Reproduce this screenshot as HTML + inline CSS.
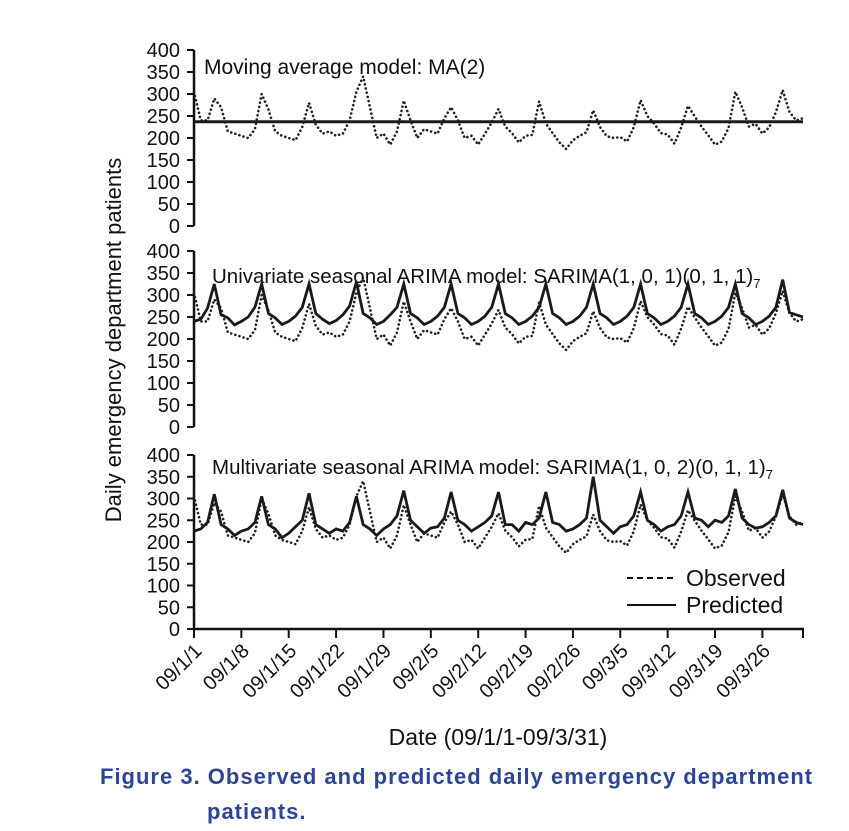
<!DOCTYPE html>
<html><head><meta charset="utf-8"><style>
body{margin:0;background:#fff;}
svg{display:block;font-family:"Liberation Sans",Arial,sans-serif;}
</style></head><body>
<svg id="chart" width="849" height="831" viewBox="0 0 849 831" xmlns="http://www.w3.org/2000/svg">
<g id="plots"></g>
<text x="121" y="340" transform="rotate(-90 121 340)" text-anchor="middle" font-size="22" fill="#111">Daily emergency department  patients</text>
<text x="498" y="745" text-anchor="middle" font-size="23" fill="#111">Date (09/1/1-09/3/31)</text>
<g>
<line x1="627" y1="578" x2="676" y2="578" stroke="#111" stroke-width="2" stroke-dasharray="6 4"/>
<text x="686" y="586" font-size="23" fill="#111">Observed</text>
<line x1="627" y1="605" x2="676" y2="605" stroke="#111" stroke-width="2"/>
<text x="686" y="613" font-size="23" fill="#111">Predicted</text>
</g>
<text x="100" y="784" font-size="22" font-weight="bold" fill="#2e4596" letter-spacing="1">Figure 3. Observed and predicted daily emergency department</text>
<text x="207" y="819" font-size="22" font-weight="bold" fill="#2e4596" letter-spacing="1">patients.</text>
</svg>
<script>
const observed = [305,240,240,290,270,215,210,205,200,220,300,265,215,205,200,195,225,280,230,210,215,205,210,240,305,340,270,200,210,185,215,285,240,200,220,215,210,245,270,240,200,205,185,210,235,266,226,211,190,205,207,283,233,211,190,175,195,205,213,263,225,204,200,202,192,225,286,250,233,211,208,187,224,273,249,226,206,185,192,223,305,270,226,232,210,224,259,309,259,240,245];
const predictedMA = 237;
const predictedSARIMA = [240,245,270,325,255,248,232,240,250,272,325,258,248,233,240,252,272,325,258,245,235,242,255,275,330,258,248,233,240,255,272,325,258,248,233,240,252,272,325,258,248,233,240,252,272,325,258,248,233,240,252,272,325,258,248,233,240,252,272,325,258,248,233,240,252,272,325,258,248,233,240,252,272,325,258,248,233,240,252,272,325,258,248,233,240,252,272,335,260,255,250];
const predictedMulti = [225,230,245,310,240,230,215,225,230,245,305,240,230,210,220,235,250,312,240,230,220,230,225,245,305,240,230,215,230,240,260,318,250,235,220,232,235,255,315,250,240,225,235,245,260,315,240,240,225,245,240,255,315,245,240,225,230,240,255,350,250,235,220,235,240,260,315,250,240,225,235,240,260,315,255,250,235,250,245,260,322,255,240,232,235,245,260,320,255,245,240];
const yTicks = [0,50,100,150,200,250,300,350,400];
const xTickDays = [0,7,14,21,28,35,42,49,56,63,70,77,84,90];
const xTickLabels = ["09/1/1","09/1/8","09/1/15","09/1/22","09/1/29","09/2/5","09/2/12","09/2/19","09/2/26","09/3/5","09/3/12","09/3/19","09/3/26",""];
const panelTitles = ["Moving average model: MA(2)","Univariate seasonal ARIMA model: SARIMA(1, 0, 1)(0, 1, 1)","Multivariate seasonal ARIMA model: SARIMA(1, 0, 2)(0, 1, 1)"];

const NS="http://www.w3.org/2000/svg";
const X0=194, X1=803, NDAYS=90;
const xs = d => X0 + (X1-X0)*d/NDAYS;
const panels=[{top:50,bot:226,tx:204,ty:74,sub:false},{top:251,bot:427,tx:212,ty:283,sub:true},{top:455,bot:629,tx:212,ty:474,sub:true}];
const root=document.getElementById('plots');
function mk(tag,attrs,parent){const e=document.createElementNS(NS,tag);for(const k in attrs)e.setAttribute(k,attrs[k]);(parent||root).appendChild(e);return e;}
panels.forEach((p,pi)=>{
  const ys=v=>p.bot-(p.bot-p.top)*v/400;
  const g=mk('g',{});
  
  
  const ax=mk('line',{x1:X0,y1:p.top,x2:X0,y2:p.bot,stroke:'#111','stroke-width':2.5},g);
  
  
  yTicks.forEach(v=>{
    const tk=mk('line',{x1:X0-7,y1:ys(v),x2:X0,y2:ys(v),stroke:'#111','stroke-width':2},g);
    
    
    const t=mk('text',{x:X0-14,y:ys(v)+7,'text-anchor':'end','font-size':20,fill:'#111'},g);
    t.textContent=v;
    
    
  });
  const tt=mk('text',{x:p.tx,y:p.ty,'font-size':pi===0?21:20.5,fill:'#111'},g);
  tt.textContent=panelTitles[pi];
  
  
  if(p.sub){const s=mk('tspan',{'font-size':13,dy:5},tt);s.textContent='7';}
  const obs=mk('polyline',{points:observed.map((v,i)=>xs(i)+','+ys(v)).join(' '),fill:'none',stroke:'#222','stroke-width':2.6,'stroke-dasharray':'0.1 4.2','stroke-linecap':'round'},g);
  
  
  let pts;
  if(pi===0) pts=observed.map((v,i)=>xs(i)+','+ys(predictedMA)).join(' ');
  else pts=(pi===1?predictedSARIMA:predictedMulti).map((v,i)=>xs(i)+','+ys(v)).join(' ');
  const pr=mk('polyline',{points:pts,fill:'none',stroke:'#1a1a1a','stroke-width':pi===0?3:2.8,'stroke-linejoin':'miter'},g);
  
  
});
const xa=mk('line',{x1:X0-1,y1:629,x2:X1+1,y2:629,stroke:'#111','stroke-width':2.5});


xTickDays.forEach((d,i)=>{
  const x=xs(d);
  const tk=mk('line',{x1:x,y1:629,x2:x,y2:638,stroke:'#111','stroke-width':2});
  
  
  if(xTickLabels[i]){
    const t=mk('text',{x:x+9,y:652,'text-anchor':'end','font-size':20,fill:'#111',transform:'rotate(-45 '+(x+9)+' 652)'});
    t.textContent=xTickLabels[i];
    
    
  }
});
</script>
</body></html>
